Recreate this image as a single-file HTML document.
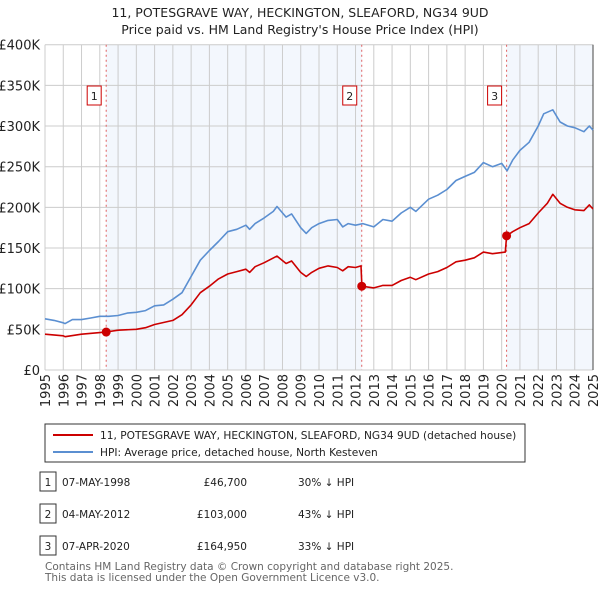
<!DOCTYPE html>
<html><head><meta charset="utf-8"><style>
body{margin:0;background:#fff;font-family:"Liberation Sans","DejaVu Sans",sans-serif;}
#wrap{position:relative;width:600px;height:590px;overflow:hidden;}
text{font-family:"DejaVu Sans","Liberation Sans",sans-serif;}
</style></head><body><div id="wrap">
<svg id="svg" width="600" height="590" xmlns="http://www.w3.org/2000/svg">
<text x="300" y="17" text-anchor="middle" font-size="12.5" fill="#222">11, POTESGRAVE WAY, HECKINGTON, SLEAFORD, NG34 9UD</text>
<text x="300" y="34" text-anchor="middle" font-size="12.5" fill="#222">Price paid vs. HM Land Registry's House Price Index (HPI)</text>
<g id="plot"></g>
<g>
<rect x="45" y="424" width="480" height="38" fill="#fff" stroke="#333" stroke-width="1"/>
<line x1="53" y1="435" x2="93" y2="435" stroke="#cc0000" stroke-width="2"/>
<text x="100" y="439" font-size="10.6" fill="#222">11, POTESGRAVE WAY, HECKINGTON, SLEAFORD, NG34 9UD (detached house)</text>
<line x1="53" y1="452" x2="93" y2="452" stroke="#5b8fd1" stroke-width="2"/>
<text x="100" y="456" font-size="10.6" fill="#222">HPI: Average price, detached house, North Kesteven</text>
</g>
<g id="table" font-size="11" fill="#222"></g>
<text x="45" y="570" font-size="10.5" fill="#666">Contains HM Land Registry data © Crown copyright and database right 2025.</text>
<text x="45" y="581" font-size="10.5" fill="#666">This data is licensed under the Open Government Licence v3.0.</text>
</svg>
<script>
const hpiT=[1995,1995.5,1996,1996.1,1996.5,1997,1997.5,1998,1998.5,1999,1999.5,2000,2000.5,2001,2001.5,2002,2002.5,2003,2003.5,2004,2004.5,2005,2005.5,2006,2006.2,2006.5,2007,2007.5,2007.7,2008.2,2008.5,2009,2009.3,2009.6,2010,2010.5,2011,2011.3,2011.6,2012,2012.4,2013,2013.5,2014,2014.5,2015,2015.3,2016,2016.5,2017,2017.5,2018,2018.5,2019,2019.5,2020,2020.3,2020.6,2021,2021.5,2022,2022.3,2022.8,2023.2,2023.6,2024,2024.5,2024.8,2025];
const hpiV=[63,61,58,57,62,62,64,66,66,67,70,71,73,79,80,87,95,115,135,147,158,170,173,178,173,180,187,195,201,188,192,175,168,175,180,184,185,176,180,178,180,176,185,183,193,200,195,210,215,222,233,238,243,255,250,254,245,258,270,280,300,315,320,305,300,298,293,300,295];
const redT=[1995,1996,1996.1,1997,1998,1998.35,1999,2000,2000.5,2001,2002,2002.5,2003,2003.5,2004,2004.5,2005,2005.5,2006,2006.2,2006.5,2007,2007.7,2008.2,2008.5,2009,2009.3,2009.6,2010,2010.5,2011,2011.3,2011.6,2012,2012.3,2012.35,2013,2013.5,2014,2014.5,2015,2015.3,2016,2016.5,2017,2017.5,2018,2018.5,2019,2019.5,2020.2,2020.27,2020.6,2021,2021.5,2022,2022.5,2022.8,2023.2,2023.6,2024,2024.5,2024.8,2025];
const redV=[44,42,41,44,46,46.7,49,50,52,56,61,68,80,95,103,112,118,121,124,120,127,132,140,131,134,120,115,120,125,128,126,122,127,126,128,103,101,104,104,110,114,111,118,121,126,133,135,138,145,143,145,164.95,170,175,180,193,205,216,205,200,197,196,203,198];
const saleT=[1998.35,2012.34,2020.27];
const saleV=[46.7,103,164.95];
const saleLabels=["1","2","3"];
const saleDates=["07-MAY-1998","04-MAY-2012","07-APR-2020"];
const salePrices=["£46,700","£103,000","£164,950"];
const saleDiff=["30% ↓ HPI","43% ↓ HPI","33% ↓ HPI"];
const yTicks=[0,50,100,150,200,250,300,350,400];
const yLabels=["£0","£50K","£100K","£150K","£200K","£250K","£300K","£350K","£400K"];
const xYears=[1995,1996,1997,1998,1999,2000,2001,2002,2003,2004,2005,2006,2007,2008,2009,2010,2011,2012,2013,2014,2015,2016,2017,2018,2019,2020,2021,2022,2023,2024,2025];

const X0=45,X1=593,Y0=370,Y1=44.7;
const xs=t=>X0+(t-1995)/30*(X1-X0);
const ys=v=>Y0-v/400*(Y0-Y1);
const NS="http://www.w3.org/2000/svg";
const plot=document.getElementById('plot');
function mk(tag,attrs,parent){const e=document.createElementNS(NS,tag);for(const k in attrs)e.setAttribute(k,attrs[k]);(parent||plot).appendChild(e);return e;}
let s1=mk('rect',{x:xs(saleT[0]),y:Y1,width:xs(saleT[1])-xs(saleT[0]),height:Y0-Y1,fill:'#eef3fc',opacity:0.7});


let s2=mk('rect',{x:xs(saleT[2]),y:Y1,width:X1-xs(saleT[2]),height:Y0-Y1,fill:'#eef3fc',opacity:0.7});


yTicks.forEach((v,i)=>{
 let l=mk('line',{x1:X0,x2:X1,y1:ys(v),y2:ys(v),stroke:'#cccccc','stroke-width':1});
 
 
 let t=mk('text',{x:40,y:ys(v)+5,'text-anchor':'end','font-size':13,fill:'#222'});
 t.textContent=yLabels[i];
 
 
});
xYears.forEach(y=>{
 let l=mk('line',{x1:xs(y),x2:xs(y),y1:Y1,y2:Y0,stroke:'#cccccc','stroke-width':1});
 
 
 let t=mk('text',{x:0,y:0,'text-anchor':'end','font-size':13,fill:'#222',transform:`translate(${xs(y)+5},${Y0+4}) rotate(-90)`});
 t.textContent=y;
 
 
});
let ax=mk('line',{x1:X1,x2:X1,y1:Y1,y2:Y0,stroke:'#444','stroke-width':1});


saleT.forEach((t,i)=>{
 let l=mk('line',{x1:xs(t),x2:xs(t),y1:Y1,y2:Y0,stroke:'#e06060','stroke-width':1,'stroke-dasharray':'2,3'});
 
 
 let b=mk('rect',{x:xs(t)-19,y:86,width:14,height:19,fill:'#fff',stroke:'#cc0000'});
 
 
 let tx=mk('text',{x:xs(t)-12,y:100,'text-anchor':'middle','font-size':11,fill:'#222'});
 tx.textContent=saleLabels[i];
 
 
});
function line(T,V,color,name){
 let d=T.map((t,i)=>(i?'L':'M')+xs(t).toFixed(1)+','+ys(V[i]).toFixed(1)).join(' ');
 let p=mk('path',{d:d,fill:'none',stroke:color,'stroke-width':1.6,'stroke-linejoin':'round'});
 
 
}
line(hpiT,hpiV,'#5b8fd1','hpi-line');
line(redT,redV,'#cc0000','price-paid-line');
saleT.forEach((t,i)=>{
 let c=mk('circle',{cx:xs(t),cy:ys(saleV[i]),r:4.5,fill:'#cc0000'});
 
 
});
const tb=document.getElementById('table');
saleT.forEach((t,i)=>{
 const yy=482+i*32;
 let b=mk('rect',{x:40,y:yy-10,width:16,height:19,fill:'#fff',stroke:'#333'},tb);
 
 
 const cells=[[48,saleLabels[i],'middle'],[62,saleDates[i],'start'],[247,salePrices[i],'end'],[298,saleDiff[i],'start']];
 cells.forEach(c=>{
  let tx=mk('text',{x:c[0],y:yy+4,'text-anchor':c[2],'font-size':10.5,fill:'#222'},tb);
  tx.textContent=c[1];
  
  
 });
});
</script>
</div></body></html>
